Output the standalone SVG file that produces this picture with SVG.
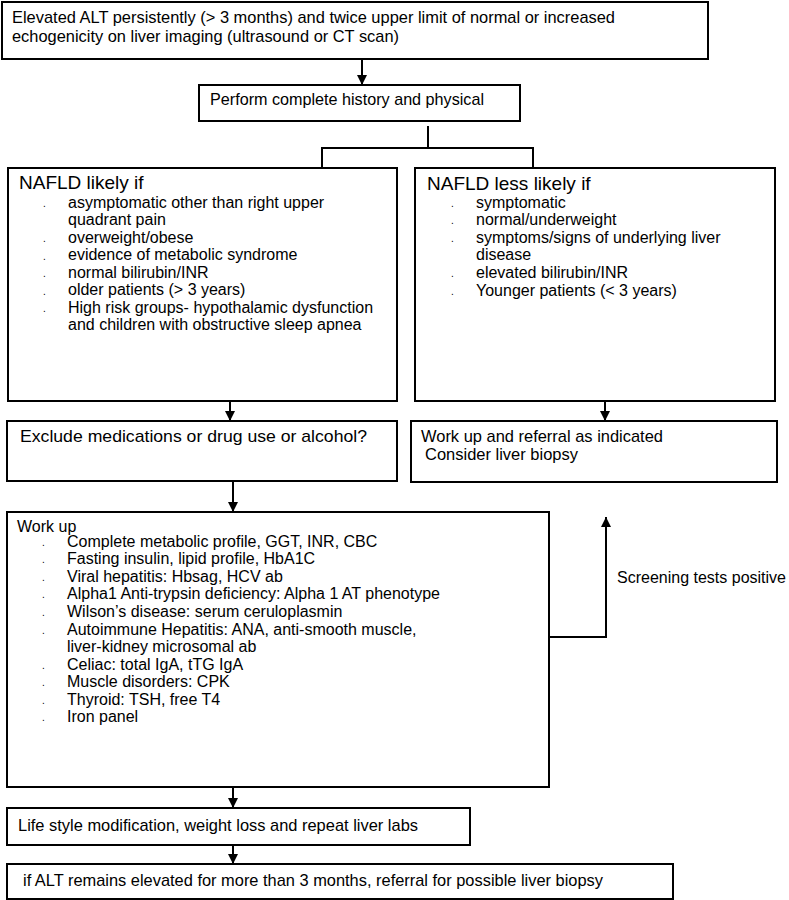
<svg xmlns="http://www.w3.org/2000/svg" width="789" height="900" viewBox="0 0 789 900">
<style>
.box{fill:#fff;stroke:#000;stroke-width:2}
.t{font-family:"Liberation Sans",Arial,sans-serif;font-size:16px;fill:#000}
.n{font-family:"Liberation Sans",Arial,sans-serif;font-size:17px;fill:#000}
.h{font-family:"Liberation Sans",Arial,sans-serif;font-size:19px;fill:#000}
.b{font-family:"Liberation Sans",Arial,sans-serif;font-size:10px;fill:#000}
.c{fill:none;stroke:#000;stroke-width:2}
</style>
<defs>
<marker id="ah" viewBox="0 0 10 10" refX="10" refY="5" markerWidth="5" markerHeight="5" orient="auto" markerUnits="strokeWidth">
<path d="M0,0 L10,5 L0,10 z" fill="#000"/>
</marker>
</defs>
<g id="connectors">
<line class="c" x1="362" y1="60" x2="362" y2="85" marker-end="url(#ah)"/>
<polyline class="c" points="428,126 428,148"/>
<polyline class="c" points="322,168 322,148 533,148 533,168"/>
<line class="c" x1="230" y1="402" x2="230" y2="421" marker-end="url(#ah)"/>
<line class="c" x1="605" y1="402" x2="605" y2="421" marker-end="url(#ah)"/>
<line class="c" x1="233" y1="482" x2="233" y2="512" marker-end="url(#ah)"/>
<polyline class="c" points="550,637 606,637 606,517" marker-end="url(#ah)"/>
<line class="c" x1="233" y1="788" x2="233" y2="808" marker-end="url(#ah)"/>
<line class="c" x1="233" y1="845" x2="233" y2="864" marker-end="url(#ah)"/>
<text class="t" x="617" y="583">Screening tests positive</text>
</g>
<g id="n1">
<rect class="box" x="2" y="2" width="706" height="57"/>
<text class="n" x="12" y="23" textLength="603" lengthAdjust="spacingAndGlyphs">Elevated ALT persistently (&gt; 3 months) and twice upper limit of normal or increased</text>
<text class="n" x="12" y="42" textLength="387" lengthAdjust="spacingAndGlyphs">echogenicity on liver imaging (ultrasound or CT scan)</text>
</g>
<g id="n2">
<rect class="box" x="199" y="85" width="321" height="36"/>
<text class="n" x="210" y="105" textLength="274" lengthAdjust="spacingAndGlyphs">Perform complete history and physical</text>
</g>
<g id="n3">
<rect class="box" x="8" y="168" width="389" height="233"/>
<text class="h" x="19" y="189">NAFLD likely if</text>
<g class="b"><text x="43" y="207">.</text><text x="43" y="242">.</text><text x="43" y="260">.</text><text x="43" y="277">.</text><text x="43" y="295">.</text><text x="43" y="312">.</text></g>
<text class="t" x="68" y="208">asymptomatic other than right upper</text>
<text class="t" x="68" y="225">quadrant pain</text>
<text class="t" x="68" y="243">overweight/obese</text>
<text class="t" x="68" y="260">evidence of metabolic syndrome</text>
<text class="t" x="68" y="278">normal bilirubin/INR</text>
<text class="t" x="68" y="295">older patients (&gt; 3 years)</text>
<text class="t" x="68" y="313">High risk groups- hypothalamic dysfunction</text>
<text class="t" x="68" y="330">and children with obstructive sleep apnea</text>
</g>
<g id="n4">
<rect class="box" x="415" y="168" width="360" height="233"/>
<text class="h" x="427" y="190">NAFLD less likely if</text>
<g class="b"><text x="451" y="207">.</text><text x="451" y="224">.</text><text x="451" y="242">.</text><text x="451" y="277">.</text><text x="451" y="295">.</text></g>
<text class="t" x="476" y="208">symptomatic</text>
<text class="t" x="476" y="225">normal/underweight</text>
<text class="t" x="476" y="243">symptoms/signs of underlying liver</text>
<text class="t" x="476" y="260">disease</text>
<text class="t" x="476" y="278">elevated bilirubin/INR</text>
<text class="t" x="476" y="296">Younger patients (&lt; 3 years)</text>
</g>
<g id="n5">
<rect class="box" x="7" y="421" width="390" height="60"/>
<text class="n" x="20" y="442" textLength="347" lengthAdjust="spacingAndGlyphs">Exclude medications or drug use or alcohol?</text>
</g>
<g id="n6">
<rect class="box" x="411" y="421" width="366" height="61"/>
<text class="n" x="421" y="442" textLength="242" lengthAdjust="spacingAndGlyphs">Work up and referral as indicated</text>
<text class="n" x="425" y="460" textLength="153" lengthAdjust="spacingAndGlyphs">Consider liver biopsy</text>
</g>
<g id="n7">
<rect class="box" x="7" y="512" width="542" height="275"/>
<text class="t" x="17" y="532">Work up</text>
<g class="b"><text x="42" y="546">.</text><text x="42" y="563">.</text><text x="42" y="581">.</text><text x="42" y="598">.</text><text x="42" y="616">.</text><text x="42" y="634">.</text><text x="42" y="669">.</text><text x="42" y="686">.</text><text x="42" y="704">.</text><text x="42" y="721">.</text></g>
<text class="t" x="67" y="547">Complete metabolic profile, GGT, INR, CBC</text>
<text class="t" x="67" y="564">Fasting insulin, lipid profile, HbA1C</text>
<text class="t" x="67" y="582">Viral hepatitis: Hbsag, HCV ab</text>
<text class="t" x="67" y="599">Alpha1 Anti-trypsin deficiency: Alpha 1 AT phenotype</text>
<text class="t" x="67" y="617">Wilson’s disease: serum ceruloplasmin</text>
<text class="t" x="67" y="635">Autoimmune Hepatitis: ANA, anti-smooth muscle,</text>
<text class="t" x="67" y="652">liver-kidney microsomal ab</text>
<text class="t" x="67" y="670">Celiac: total IgA, tTG IgA</text>
<text class="t" x="67" y="687">Muscle disorders: CPK</text>
<text class="t" x="67" y="705">Thyroid: TSH, free T4</text>
<text class="t" x="67" y="722">Iron panel</text>
</g>
<g id="n8">
<rect class="box" x="7" y="808" width="463" height="37"/>
<text class="n" x="18" y="831" textLength="400" lengthAdjust="spacingAndGlyphs">Life style modification, weight loss and repeat liver labs</text>
</g>
<g id="n9">
<rect class="box" x="7" y="864" width="666" height="35"/>
<text class="n" x="23" y="886" textLength="580" lengthAdjust="spacingAndGlyphs">if ALT remains elevated for more than 3 months, referral for possible liver biopsy</text>
</g>
</svg>
